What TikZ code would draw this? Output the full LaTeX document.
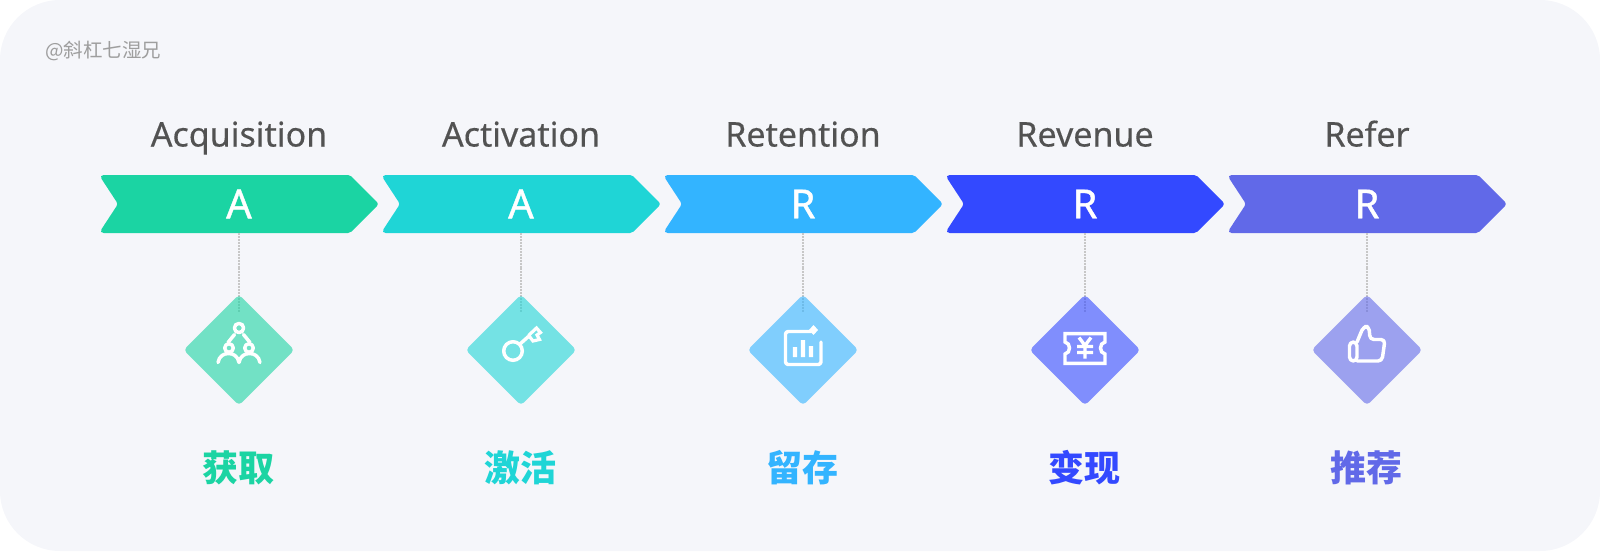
\documentclass[tikz,border=0pt]{standalone}
\usepackage{fontspec}
\usetikzlibrary{shapes.geometric}
\setmainfont{Noto Sans}
\newfontfamily\titlef[FakeBold=0.3]{Noto Sans}
\newfontfamily\letterf[FakeBold=1]{Noto Sans}
\newfontfamily\cjk{Noto Sans CJK SC}
\definecolor{bgc}{HTML}{F5F6FA}
\definecolor{ca}{HTML}{1BD4A3}
\definecolor{cb}{HTML}{1FD5D6}
\definecolor{cc}{HTML}{33B4FF}
\definecolor{cd}{HTML}{3349FF}
\definecolor{ce}{HTML}{6169E8}
\tikzset{
  title/.style={text=black!68,font=\titlef\fontsize{25.5pt}{28pt}\selectfont,anchor=base,inner sep=0},
  letter/.style={text=white,font=\letterf\fontsize{30pt}{32pt}\selectfont,minimum width=240*.75pt,minimum height=58*.75pt,inner sep=0},
  tile/.style={shape=diamond,aspect=1,minimum width=111*.75pt,minimum height=111*.75pt,inner sep=0,rounded corners=3pt,fill opacity=.6},
  cnlabel/.style={font=\cjk\bfseries\fontsize{27pt}{28pt}\selectfont,inner sep=0},
  link/.style={draw=black!22,line width=1pt,dash pattern=on 1.5pt off .7pt},
  ico/.style={draw=white,line width=2.6pt,line cap=round,line join=round}
}
\begin{document}
\begin{tikzpicture}[x=.75pt,y=-.75pt]
\useasboundingbox (0,0) rectangle (1600,551);
\fill[bgc,rounded corners=45pt] (0,0) rectangle (1600,551);
\node[text=black!38,font=\cjk\fontsize{14.6pt}{16pt}\selectfont,anchor=west,inner sep=0] (mark) at (45,51) {@斜杠七湿兄};
\foreach \n/\x/\c/\t/\l/\z in {1/239/ca/Acquisition/A/获取,2/521/cb/Activation/A/激活,3/803/cc/Retention/R/留存,4/1085/cd/Revenue/R/变现,5/1367/ce/Refer/R/推荐}{
  \fill[\c] (\x,175) [rounded corners=1.5pt] -- (\x+111,175) [rounded corners=2.2pt] -- (\x+140,204) [rounded corners=1.5pt] -- (\x+111,233) [rounded corners=3.5pt] -- (\x-140,233) [rounded corners=2pt] -- (\x-121,204) [rounded corners=3.5pt] -- (\x-140,175) [sharp corners] -- cycle;
  \node[letter] (a\n) at (\x,204) {\l};
  \node[title] (t\n) at (\x,146.5) {\t};
  \coordinate (e\n) at (\x,312);
  \draw[link] (a\n.south) -- (e\n);
  \node[tile,fill=\c] (d\n) at (\x,350) {};
  \node[cnlabel,text=\c] (z\n) at (\x-.5,468) {\z};
}
% people
\begin{scope}[shift={(d1.center)}]
  \draw[ico] (0,-22) circle (4.6) (-10,-2) circle (4.3) (10,-2) circle (4.3);
  \draw[ico] (-21,12.5) .. controls (-20,6) and (-15,3.5) .. (-10.5,3.5) .. controls (-6,3.5) and (-1,6) .. (0,12.5) .. controls (1,6) and (6,3.5) .. (10.5,3.5) .. controls (15,3.5) and (20,6) .. (21,12.5);
  \draw[ico] (-4.5,-15.5) -- (-11,-7.5) (4.5,-15.5) -- (11,-7.5);
\end{scope}
% key
\begin{scope}[shift={(d2.center)}]
  \draw[ico] (-8,1) circle (9.3);
  \draw[ico] (-1,-6) -- (8,-14);
  \draw[ico,line width=2.4pt,line cap=butt,line join=miter] (7.5,-14.5) -- (15.5,-22) -- (19.5,-17.5) -- (16,-15) -- (18.5,-10.5) -- (12,-9) -- (8.5,-13.5);
\end{scope}
% chart
\begin{scope}[shift={(d3.center)}]
  \draw[ico,rounded corners=2pt] (8,-18.5) -- (-17.5,-18.5) -- (-17.5,14.5) -- (18,14.5) -- (18,-8);
  \fill[white] (10.5,-25) -- (15,-20) -- (10.5,-15) -- (6,-20) -- cycle;
  \fill[white] (-10.2,-3) rectangle (-5.8,7) (-2.2,-10) rectangle (2.2,7) (5.8,-4) rectangle (10.2,7);
\end{scope}
% ticket
\begin{scope}[shift={(d4.center)}]
  \draw[ico,line cap=butt,line join=miter] (-20,-16.3) -- (20,-16.3) -- (20,-8) .. controls (14,-7) and (14,3) .. (20,4) -- (20,13.3) -- (-20,13.3) -- (-20,4) .. controls (-14,3) and (-14,-7) .. (-20,-8) -- cycle;
  \draw[ico,line width=2.5pt,line cap=butt,line join=miter] (-6,-12.5) -- (0,-4.5) -- (6,-12.5) (-8,-3.5) -- (8,-3.5) (-8,2.5) -- (8,2.5) (0,-4) -- (0,8.5);
\end{scope}
% thumb
\begin{scope}[shift={(d5.center)}]
  \draw[ico,rounded corners=3pt] (-10,-8) -- (-17.5,-8) -- (-17.5,11) -- (-10,11) -- cycle;
  \draw[ico,rounded corners=3pt] (-10,-8) -- (-3.5,-23.5) -- (2,-23.5) -- (3,-10.5) -- (18,-10.5) -- (15,11) -- (-10,11);
\end{scope}
\end{tikzpicture}
\end{document}
